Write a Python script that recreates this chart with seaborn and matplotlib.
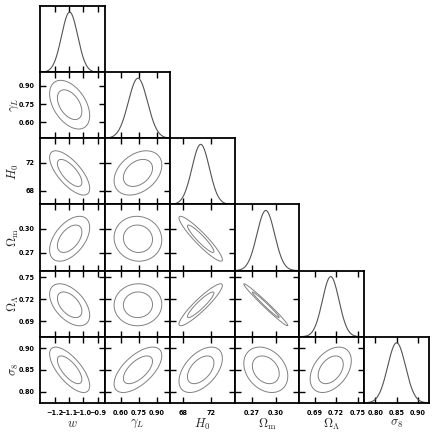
import numpy as np
import matplotlib
matplotlib.use("Agg")
import matplotlib.pyplot as plt
from matplotlib.ticker import FixedLocator, FixedFormatter, NullLocator
import seaborn as sns
import pandas as pd

# ---------------- data ----------------
labels = [r"$w$", r"$\gamma_L$", r"$H_0$", r"$\Omega_{\rm m}$", r"$\Omega_\Lambda$", r"$\sigma_8$"]
means = [-1.095, 0.745, 70.55, 0.2875, 0.7125, 0.850]
sigmas = [0.056, 0.080, 1.27, 0.0112, 0.0115, 0.021]
lims_lo = [-1.30, 0.47, 66.05, 0.248, 0.669, 0.774]
lims_hi = [-0.85, 1.01, 75.48, 0.330, 0.759, 0.926]

ticks_w = [-1.2, -1.1, -1.0, -0.9]
ticks_gamma = [0.60, 0.75, 0.90]
ticks_H0 = [68, 72]
ticks_Om = [0.27, 0.30]
ticks_OL = [0.69, 0.72, 0.75]
ticks_s8 = [0.80, 0.85, 0.90]
ticklabels_w = ["\u22121.2", "\u22121.1", "\u22121.0", "\u22120.9"]
ticklabels_gamma = ["0.60", "0.75", "0.90"]
ticklabels_H0 = ["68", "72"]
ticklabels_Om = ["0.27", "0.30"]
ticklabels_OL = ["0.69", "0.72", "0.75"]
ticklabels_s8 = ["0.80", "0.85", "0.90"]

# correlation coefficients of each parameter with the preceding ones
corr_gamma = [-0.45]
corr_H0 = [-0.70, 0.35]
corr_Om = [0.50, -0.05, -0.93]
corr_OL = [-0.50, 0.02, 0.92, -0.985]
corr_s8 = [-0.70, 0.62, 0.50, -0.28, 0.40]

chi2_levels = [2.30, 6.17]   # 68% and 95% two-parameter contours
# -----------------------------------------------------------

ticks = [ticks_w, ticks_gamma, ticks_H0, ticks_Om, ticks_OL, ticks_s8]
ticklabels = [ticklabels_w, ticklabels_gamma, ticklabels_H0, ticklabels_Om, ticklabels_OL, ticklabels_s8]
corr_rows = [[], corr_gamma, corr_H0, corr_Om, corr_OL, corr_s8]

sns.set_theme(style="ticks")
plt.rcParams.update({
    "font.family": ["DejaVu Sans"],
    "font.weight": "bold",
    "mathtext.fontset": "cm",
    "axes.edgecolor": "black",
    "axes.linewidth": 1.3,
    "xtick.labelsize": 4.7,
    "ytick.labelsize": 4.7,
})

n = len(labels)
fig, axes = plt.subplots(n, n, figsize=(4.36, 4.36), dpi=100)
fig.subplots_adjust(left=0.092, right=0.984, top=0.986, bottom=0.076, wspace=0, hspace=0)

contour_color = "0.5"
line_color = "0.33"
tick_kw = dict(direction="in", length=4, width=1.0, color="black", labelcolor="black")

for i in range(n):
    for j in range(n):
        ax = axes[i, j]
        if j > i:
            ax.set_visible(False)
            continue
        ax.set_xlim(lims_lo[j], lims_hi[j])
        ax.xaxis.set_major_locator(FixedLocator(ticks[j]))
        ax.xaxis.set_major_formatter(FixedFormatter(ticklabels[j]))
        ax.tick_params(axis="x", top=True, bottom=True, pad=5, **tick_kw)
        if i == j:
            xs = np.linspace(lims_lo[j], lims_hi[j], 400)
            pdf = np.exp(-0.5 * ((xs - means[j]) / sigmas[j]) ** 2)
            df = pd.DataFrame({"x": xs, "p": pdf})
            sns.lineplot(data=df, x="x", y="p", ax=ax, color=line_color, lw=0.8)
            ax.set_ylim(0, 1.1)
            ax.yaxis.set_major_locator(NullLocator())
            ax.tick_params(axis="y", left=False, right=False)
        else:
            rho = corr_rows[i][j]
            gx = np.linspace(lims_lo[j], lims_hi[j], 300)
            gy = np.linspace(lims_lo[i], lims_hi[i], 300)
            X, Y = np.meshgrid(gx, gy)
            dx = (X - means[j]) / sigmas[j]
            dy = (Y - means[i]) / sigmas[i]
            chi2 = (dx ** 2 - 2 * rho * dx * dy + dy ** 2) / (1 - rho ** 2)
            ax.contour(X, Y, chi2, levels=chi2_levels, colors=contour_color, linewidths=0.7)
            ax.set_ylim(lims_lo[i], lims_hi[i])
            ax.yaxis.set_major_locator(FixedLocator(ticks[i]))
            ax.yaxis.set_major_formatter(FixedFormatter(ticklabels[i]))
            ax.tick_params(axis="y", left=True, right=True, pad=4, **tick_kw)
        # labels only on outer panels
        if i == n - 1:
            ax.set_xlabel(labels[j], fontsize=9, labelpad=1)
        else:
            ax.set_xlabel("")
            ax.tick_params(axis="x", labelbottom=False)
        if j == 0 and i > 0:
            ax.set_ylabel(labels[i], fontsize=9)
            ax.yaxis.set_label_coords(-0.30, 0.5)
        else:
            ax.set_ylabel("")
            ax.tick_params(axis="y", labelleft=False)
        for s in ax.spines.values():
            s.set_visible(True)
            s.set_color("black")

fig.savefig("out.png", dpi=100)
